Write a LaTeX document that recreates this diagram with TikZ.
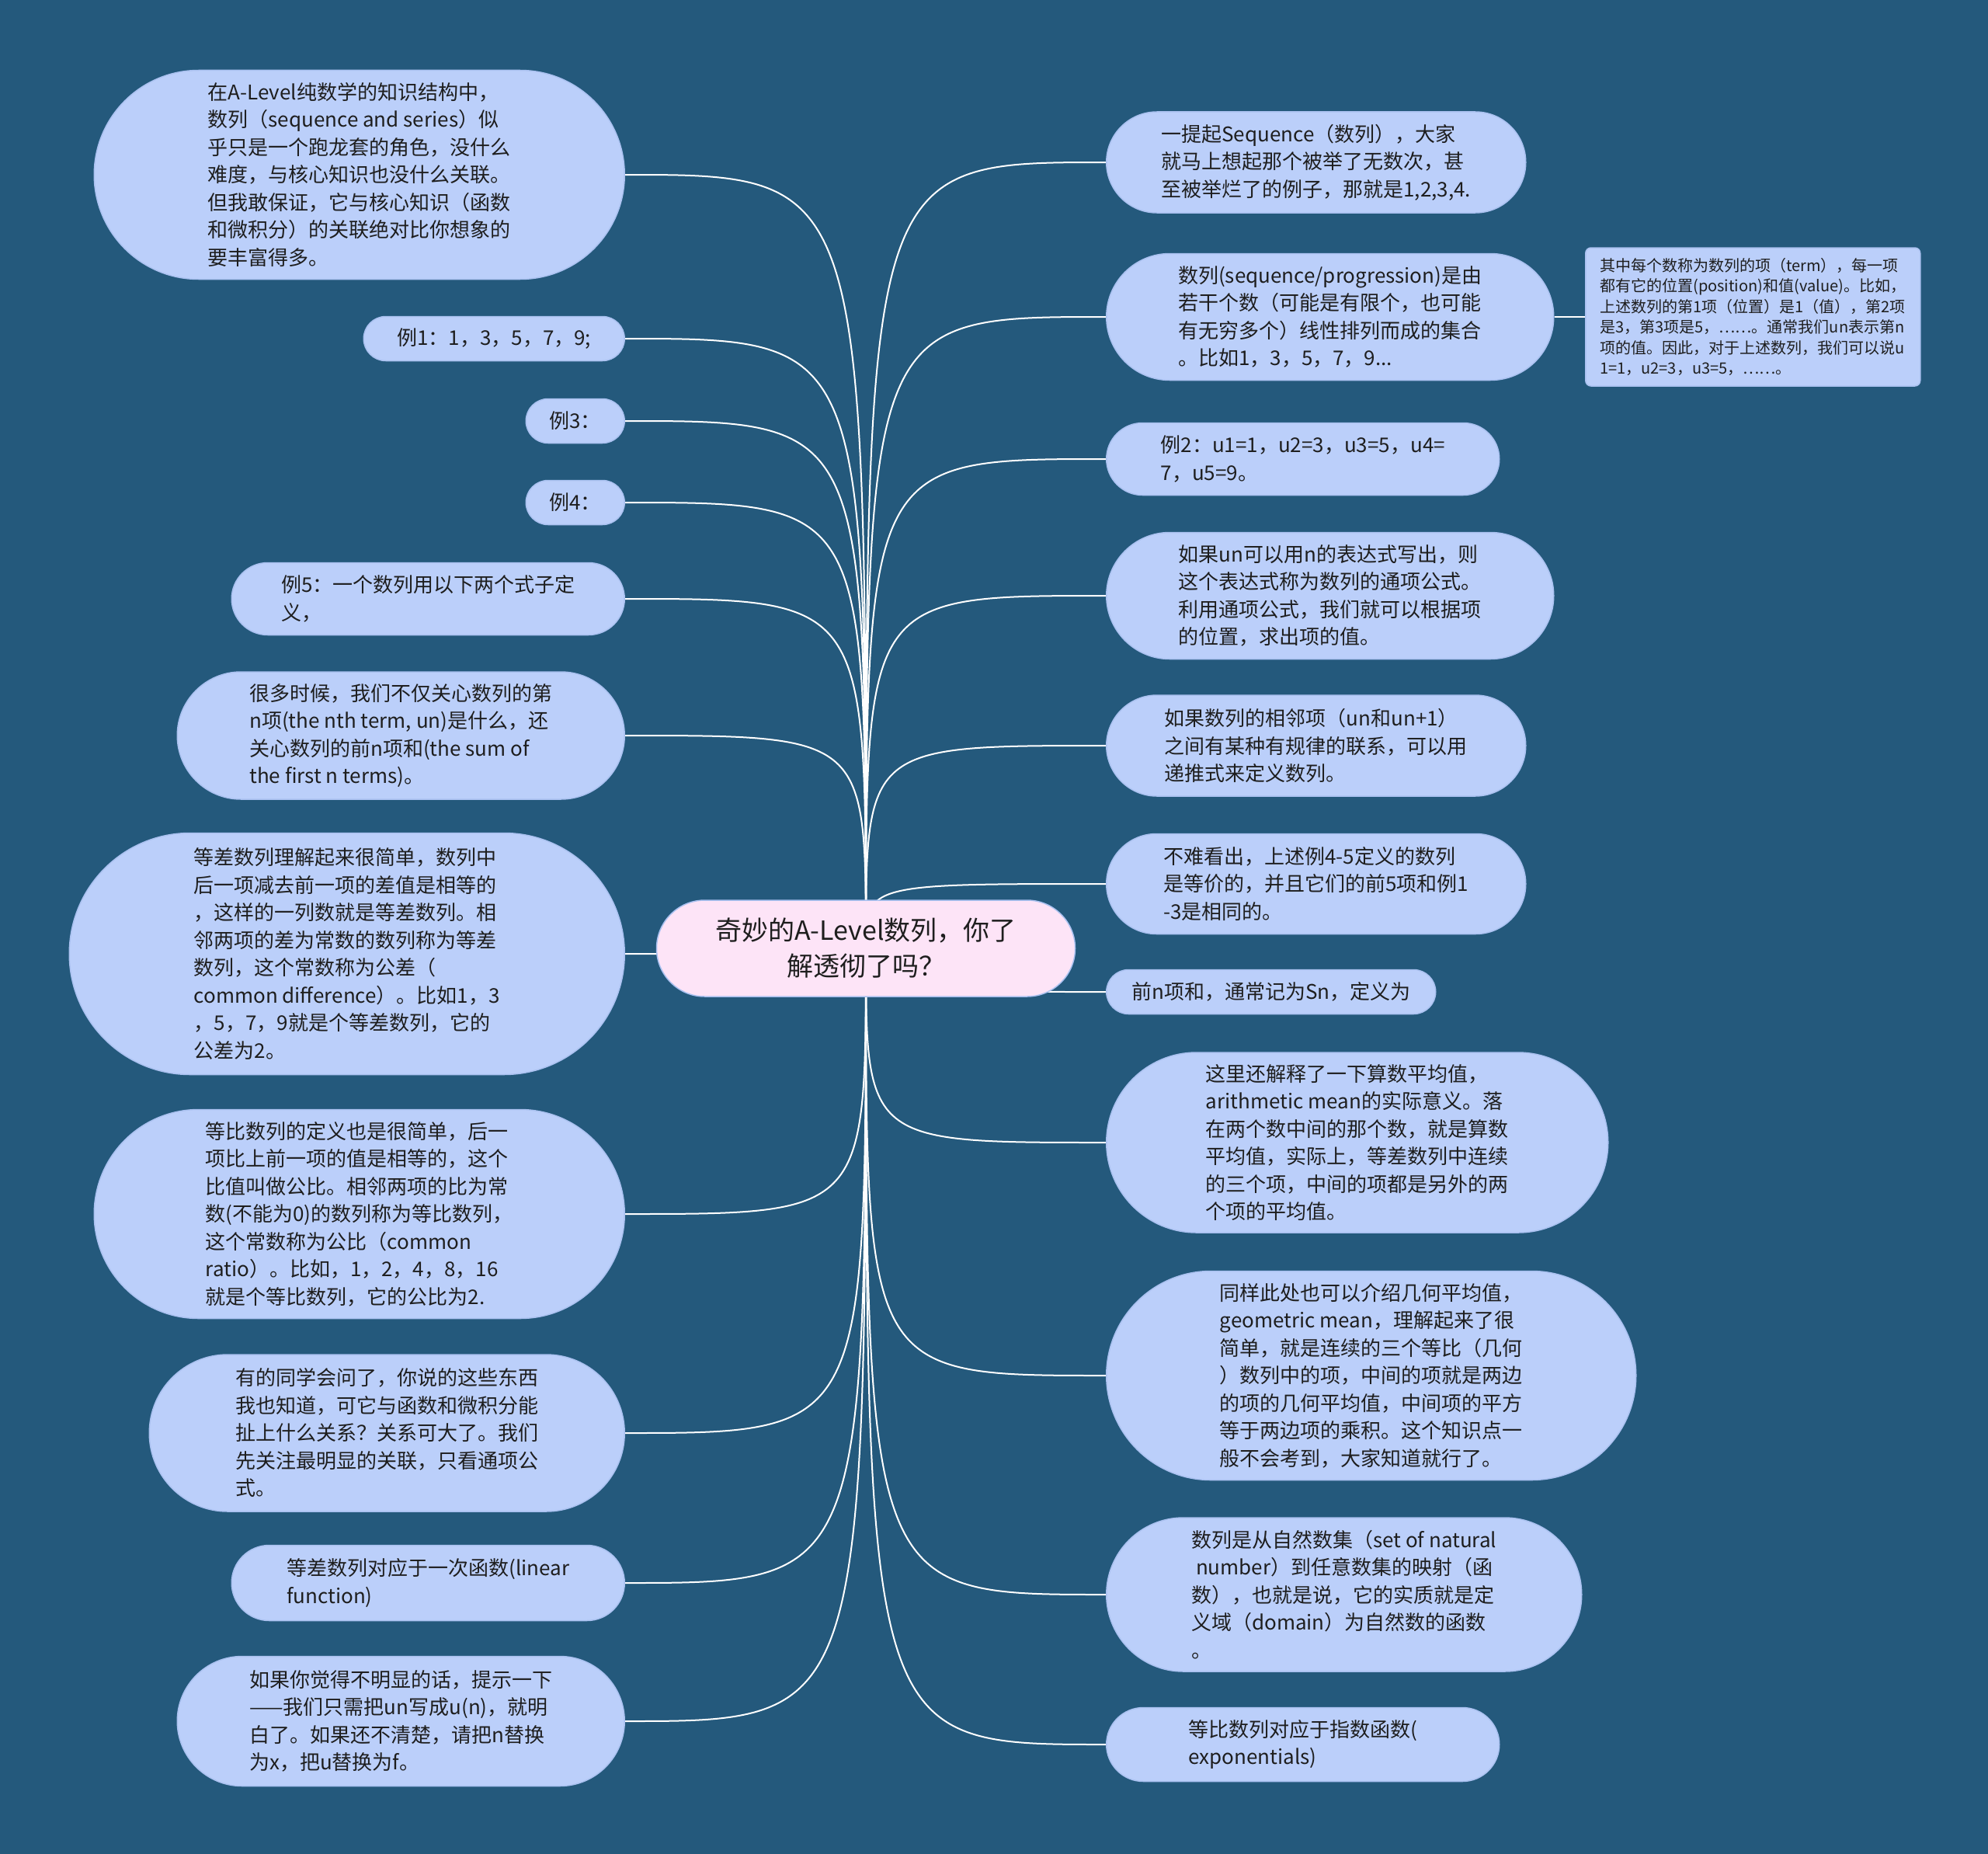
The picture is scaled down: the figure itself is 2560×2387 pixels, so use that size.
\documentclass[tikz,border=0pt]{standalone}
\usepackage{fontspec}
\setmainfont{Noto Sans CJK SC}
\usetikzlibrary{shapes.misc,backgrounds}

\definecolor{bgblue}{RGB}{36,89,124}
\definecolor{leafblue}{RGB}{187,207,250}
\definecolor{leafedge}{RGB}{170,193,240}
\definecolor{rootpink}{RGB}{253,228,247}
\definecolor{inkgray}{RGB}{30,30,30}

\tikzset{
  leaf/.style={rounded rectangle, fill=leafblue, draw=leafedge, line width=1.5pt,
    align=left, text=inkgray, inner sep=0pt,
    font=\fontsize{26}{35.5}\selectfont},
  note/.style={rectangle, rounded corners=7pt, fill=leafblue, draw=leafedge, line width=1.5pt,
    align=left, text=inkgray, inner sep=6pt,
    font=\fontsize{20}{26.5}\selectfont},
  root/.style={rounded rectangle, fill=rootpink, draw=leafedge, line width=1.5pt,
    align=center, text=inkgray, inner sep=0pt,
    font=\fontsize{34}{46}\selectfont},
  link/.style={draw=white, line width=2pt}
}

\begin{document}
\begin{tikzpicture}[x=1pt,y=-1pt]
\useasboundingbox (0,0) rectangle (2560,2387);

\node[root, minimum width=539pt, minimum height=124pt] (root) at (1115,1221)
  {奇妙的A-Level数列，你了\\解透彻了吗？};

% left side
\node[leaf, anchor=east, minimum width=683pt, minimum height=269pt] (l1) at (805,225)
  {在A-Level纯数学的知识结构中，\\数列（sequence and series）似\\乎只是一个跑龙套的角色，没什么\\难度，与核心知识也没什么关联。\\但我敢保证，它与核心知识（函数\\和微积分）的关联绝对比你想象的\\要丰富得多。};
\node[leaf, anchor=east, minimum width=336pt, minimum height=57pt] (l2) at (805,436)
  {例1：1，3，5，7，9;};
\node[leaf, anchor=east, minimum width=127pt, minimum height=57pt] (l3) at (805,542)
  {例3：};
\node[leaf, anchor=east, minimum width=127pt, minimum height=57pt] (l4) at (805,647)
  {例4：};
\node[leaf, anchor=east, minimum width=506pt, minimum height=93pt] (l5) at (805,771)
  {例5：一个数列用以下两个式子定\\义，};
\node[leaf, anchor=east, minimum width=576pt, minimum height=164pt] (l6) at (805,947)
  {很多时候，我们不仅关心数列的第\\n项(the nth term, un)是什么，还\\关心数列的前n项和(the sum of\\the first n terms)。};
\node[leaf, anchor=east, minimum width=715pt, minimum height=311pt] (l7) at (805,1228)
  {等差数列理解起来很简单，数列中\\后一项减去前一项的差值是相等的\\，这样的一列数就是等差数列。相\\邻两项的差为常数的数列称为等差\\数列，这个常数称为公差（\\common difference）。比如1，3\\，5，7，9就是个等差数列，它的\\公差为2。};
\node[leaf, anchor=east, minimum width=683pt, minimum height=269pt] (l8) at (805,1563)
  {等比数列的定义也是很简单，后一\\项比上前一项的值是相等的，这个\\比值叫做公比。相邻两项的比为常\\数(不能为0)的数列称为等比数列，\\这个常数称为公比（common\\ratio）。比如，1，2，4，8，16\\就是个等比数列，它的公比为2.};
\node[leaf, anchor=east, minimum width=612pt, minimum height=202pt] (l9) at (805,1845)
  {有的同学会问了，你说的这些东西\\我也知道，可它与函数和微积分能\\扯上什么关系？关系可大了。我们\\先关注最明显的关联，只看通项公\\式。};
\node[leaf, anchor=east, minimum width=506pt, minimum height=97pt] (l10) at (805,2038)
  {等差数列对应于一次函数(linear\\function)};
\node[leaf, anchor=east, minimum width=576pt, minimum height=167pt] (l11) at (805,2216)
  {如果你觉得不明显的话，提示一下\\——我们只需把un写成u(n)，就明\\白了。如果还不清楚，请把n替换\\为x，把u替换为f。};

% right side
\node[leaf, anchor=west, minimum width=540pt, minimum height=130pt] (r1) at (1424,209)
  {一提起Sequence（数列），大家\\就马上想起那个被举了无数次，甚\\至被举烂了的例子，那就是1,2,3,4.};
\node[leaf, anchor=west, minimum width=576pt, minimum height=163pt] (r2) at (1424,408)
  {数列(sequence/progression)是由\\若干个数（可能是有限个，也可能\\有无穷多个）线性排列而成的集合\\。比如1，3，5，7，9...};
\node[note, anchor=west, minimum width=431pt, minimum height=178pt] (r2a) at (2041,408)
  {其中每个数称为数列的项（term），每一项\\都有它的位置(position)和值(value)。比如，\\上述数列的第1项（位置）是1（值），第2项\\是3，第3项是5，……。通常我们un表示第n\\项的值。因此，对于上述数列，我们可以说u\\1=1，u2=3，u3=5，……。};
\node[leaf, anchor=west, minimum width=506pt, minimum height=93pt] (r3) at (1424,591)
  {例2：u1=1，u2=3，u3=5，u4=\\7，u5=9。};
\node[leaf, anchor=west, minimum width=576pt, minimum height=163pt] (r4) at (1424,767)
  {如果un可以用n的表达式写出，则\\这个表达式称为数列的通项公式。\\利用通项公式，我们就可以根据项\\的位置，求出项的值。};
\node[leaf, anchor=west, minimum width=540pt, minimum height=130pt] (r5) at (1424,960)
  {如果数列的相邻项（un和un+1）\\之间有某种有规律的联系，可以用\\递推式来定义数列。};
\node[leaf, anchor=west, minimum width=540pt, minimum height=129pt] (r6) at (1424,1138)
  {不难看出，上述例4-5定义的数列\\是等价的，并且它们的前5项和例1\\-3是相同的。};
\node[leaf, anchor=west, minimum width=424pt, minimum height=57pt] (r7) at (1424,1277)
  {前n项和，通常记为Sn，定义为};
\node[leaf, anchor=west, minimum width=646pt, minimum height=232pt] (r8) at (1424,1471)
  {这里还解释了一下算数平均值，\\arithmetic mean的实际意义。落\\在两个数中间的那个数，就是算数\\平均值，实际上，等差数列中连续\\的三个项，中间的项都是另外的两\\个项的平均值。};
\node[leaf, anchor=west, minimum width=682pt, minimum height=269pt] (r9) at (1424,1771)
  {同样此处也可以介绍几何平均值，\\geometric mean，理解起来了很\\简单，就是连续的三个等比（几何\\）数列中的项，中间的项就是两边\\的项的几何平均值，中间项的平方\\等于两边项的乘积。这个知识点一\\般不会考到，大家知道就行了。};
\node[leaf, anchor=west, minimum width=612pt, minimum height=198pt] (r10) at (1424,2053)
  {数列是从自然数集（set of natural\\\ number）到任意数集的映射（函\\数），也就是说，它的实质就是定\\义域（domain）为自然数的函数\\。};
\node[leaf, anchor=west, minimum width=506pt, minimum height=95pt] (r11) at (1424,2246)
  {等比数列对应于指数函数(\\exponentials)};

\begin{scope}[on background layer]
\fill[bgblue] (0,0) rectangle (2560,2387);
\foreach \n in {l1,l2,l3,l4,l5,l6,l7,l8,l9,l10,l11}
  \draw[link] (root.center) .. controls (root.center |- \n.east) and (root.center |- \n.east) .. (\n.east);
\foreach \n in {r1,r2,r3,r4,r5,r6,r7,r8,r9,r10,r11}
  \draw[link] (root.center) .. controls (root.center |- \n.west) and (root.center |- \n.west) .. (\n.west);
\draw[link] (r2.east) -- (r2a.west);
\end{scope}

\end{tikzpicture}
\end{document}
